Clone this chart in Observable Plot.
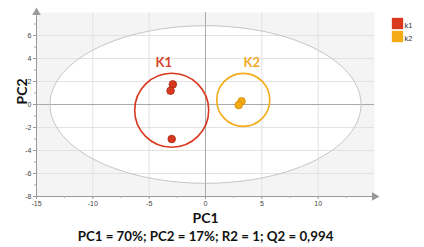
<!DOCTYPE html>
<html>
<head>
<meta charset="utf-8">
<script src="https://cdn.jsdelivr.net/npm/d3@7"></script>
<script src="https://cdn.jsdelivr.net/npm/@observablehq/plot@0.6"></script>
<style>
  html, body { margin: 0; padding: 0; background: #fff; }
  #chart { width: 424px; height: 247px; overflow: hidden; }
</style>
</head>
<body>
<div id="chart"></div>
<script>
// ---- data ----
const groups = ["k1", "k2"];
const groupLabels = ["K1", "K2"];
const groupColors = ["#d9381e", "#f5aa17"];
const groupStroke = ["#a52812", "#cf8a00"];
const labelColors = ["#d9442a", "#f0aa2a"];

const pointGroup = ["k1", "k1", "k1", "k2", "k2"];
const pc1 = [-2.9, -3.1, -3.0, 3.2, 2.95];
const pc2 = [1.75, 1.2, -3.0, 0.28, -0.05];

// group circles (centre in PC units, radius in px)
const circleX = [-3.0, 3.35];
const circleY = [-0.5, 0.4];
const circleR = [37, 26.5];

// group label positions
const labelX = [-3.7, 4.1];
const labelY = [3.65, 3.65];

// Hotelling ellipse
const ellipseCx = 0, ellipseCy = 0, ellipseA = 13.8, ellipseB = 6.85;

const xTicks = [-15, -10, -5, 0, 5, 10];
const xMinor = [-12.5, -7.5, -2.5, 2.5, 7.5, 12.5];
const yTicks = [-8, -6, -4, -2, 0, 2, 4, 6];
const yMinor = [-7, -5, -3, -1, 1, 3, 5, 7];
const xGrid = [-10, -5, 5, 10];
const yGrid = [-6, -4, -2, 2, 4, 6];
const xDomain = [-15, 15];
const yDomain = [-8, 8];

const captionText = "PC1 = 70%; PC2 = 17%; R2 = 1; Q2 = 0,994";

// ---- derived tables ----
const points = pc1.map((x, i) => ({x, y: pc2[i], g: pointGroup[i]}));
const circles = circleX.map((x, i) => ({x, y: circleY[i], r: circleR[i], g: groups[i]}));
const labels = labelX.map((x, i) => ({x, y: labelY[i], t: groupLabels[i], g: groups[i]}));
const ellipse = d3.range(0, 361, 2).map(a => {
  const t = a * Math.PI / 180;
  return {x: ellipseCx + ellipseA * Math.cos(t), y: ellipseCy + ellipseB * Math.sin(t)};
});
const colorOf = g => groupColors[groups.indexOf(g)];
const strokeOf = g => groupStroke[groups.indexOf(g)];
const labelColorOf = g => labelColors[groups.indexOf(g)];

const bold = "Lato, 'Open Sans', sans-serif";
const fmt = d => String(d);

const legendMarks = groups.flatMap((g, i) => [
  Plot.dot([g], {frameAnchor: "top-right", dx: 23, dy: 11 + i * 13, symbol: "square", r: 6.4, fill: groupColors[i]}),
  Plot.text([g], {frameAnchor: "top-right", dx: 30, dy: 10.5 + i * 13, text: d => d, textAnchor: "start", fontSize: 7.5, fill: "#333"})
]);

const chart = Plot.plot({
  width: 424,
  height: 247,
  marginLeft: 36,
  marginRight: 50,
  marginTop: 12,
  marginBottom: 51,
  style: {fontFamily: "'Liberation Sans', Arial, sans-serif", background: "#fff"},
  x: {domain: xDomain},
  y: {domain: yDomain},
  r: {type: "identity"},
  marks: [
    Plot.frame({fill: "#f4f4f4", stroke: null}),
    Plot.line(ellipse, {x: "x", y: "y", fill: "white", stroke: "none"}),
    Plot.gridX(xGrid, {stroke: "#e2e2e2", strokeOpacity: 1}),
    Plot.gridY(yGrid, {stroke: "#e2e2e2", strokeOpacity: 1}),
    Plot.ruleX([0], {stroke: "#aaaaaa"}),
    Plot.ruleY([0], {stroke: "#aaaaaa"}),
    Plot.line(ellipse, {x: "x", y: "y", stroke: "#c4c4c4", strokeWidth: 1}),
    Plot.ruleY([yDomain[0]], {stroke: "#999"}),
    Plot.ruleX([xDomain[0]], {stroke: "#999"}),
    Plot.dot([0], {x: xDomain[1], y: yDomain[0], symbol: "triangle", r: 3.2, rotate: 90, fill: "#999"}),
    Plot.dot([0], {x: xDomain[0], y: yDomain[1], symbol: "triangle", r: 3.2, rotate: 0, fill: "#999"}),
    Plot.axisX({ticks: xTicks, tickFormat: fmt, tickSize: 3, tickPadding: 2, fontSize: 7, fill: "#444", stroke: "#999", label: null}),
    Plot.axisX({ticks: xMinor, tickFormat: () => "", tickSize: 2, stroke: "#aaa", label: null}),
    Plot.axisY({ticks: yTicks, tickFormat: fmt, tickSize: 3, tickPadding: 2, fontSize: 7, fill: "#444", stroke: "#999", label: null}),
    Plot.axisY({ticks: yMinor, tickFormat: () => "", tickSize: 2, stroke: "#aaa", label: null}),
    Plot.dot(circles, {x: "x", y: "y", r: "r", stroke: d => colorOf(d.g), strokeWidth: 1.6, fill: "none"}),
    Plot.dot(points, {x: "x", y: "y", r: 3.8, fill: d => colorOf(d.g), stroke: d => strokeOf(d.g), strokeWidth: 0.8}),
    Plot.text(labels, {x: "x", y: "y", text: "t", fill: d => labelColorOf(d.g), fontSize: 13, fontWeight: "bold", fontFamily: bold}),
    ...legendMarks,
    Plot.text(["PC1"], {frameAnchor: "bottom", dy: 26, text: d => d, fontSize: 14, fontWeight: "bold", fontFamily: bold, fill: "#111"}),
    Plot.text(["PC2"], {frameAnchor: "left", dx: -14, rotate: -90, text: d => d, fontSize: 14, fontWeight: "bold", fontFamily: bold, fill: "#111"}),
    Plot.text([captionText], {frameAnchor: "bottom", dy: 44, text: d => d, fontSize: 13.3, fontWeight: "bold", fontFamily: bold, fill: "#111"})
  ]
});
document.getElementById("chart").appendChild(chart);
</script>
</body>
</html>
